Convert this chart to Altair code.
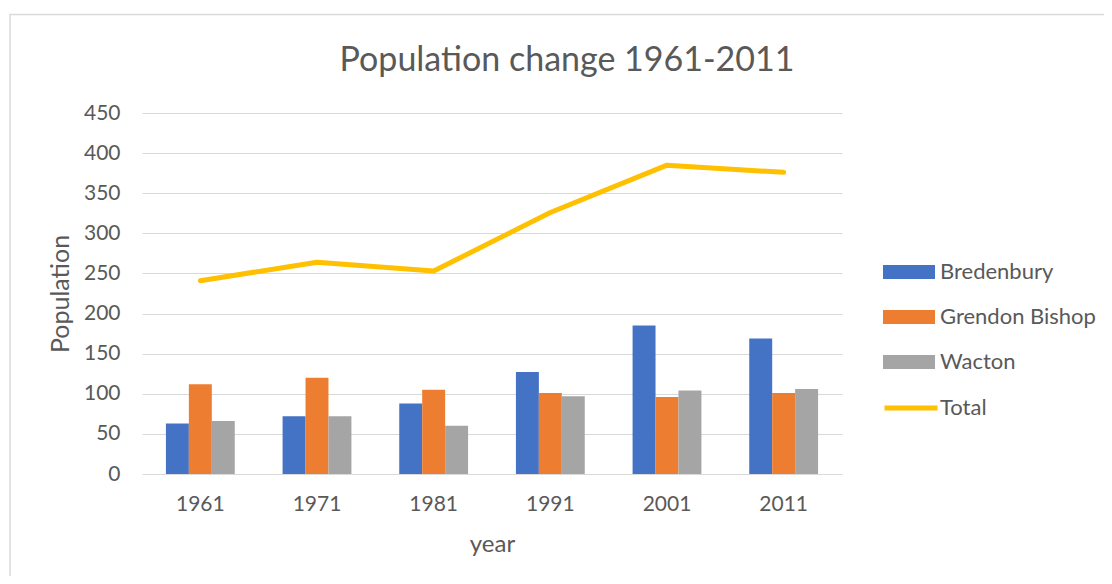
import altair as alt
import pandas as pd

years = ["1961", "1971", "1981", "1991", "2001", "2011"]
bredenbury = [63, 72, 88, 127, 185, 169]
grendon_bishop = [112, 120, 105, 101, 96, 101]
wacton = [66, 72, 60, 97, 104, 106]
total = [241, 264, 253, 326, 385, 376]

series_names = ["Bredenbury", "Grendon Bishop", "Wacton"]
series_colors = ["#4472C4", "#ED7D31", "#A5A5A5"]
total_color = "#FFC000"
chart_title = "Population change 1961-2011"

FONT = "Lato"
TXT = "#595959"
GRID = "#D9D9D9"

rows = []
for name, vals in zip(series_names, [bredenbury, grendon_bishop, wacton]):
    for y, v in zip(years, vals):
        rows.append({"year": y, "series": name, "value": v})
bars_df = pd.DataFrame(rows)
total_df = pd.DataFrame({"year": years, "value": total, "label": ["Total"] * len(years)})
frame_df = pd.DataFrame({"title": [chart_title]})

x_scale = alt.Scale(type="band", domain=years, paddingInner=0.41, paddingOuter=0.205)
y_scale = alt.Scale(domain=[0, 450])

x_axis = alt.Axis(
    title="year", labelFont=FONT, labelFontSize=21, labelColor=TXT, labelAngle=0,
    labelBaseline="alphabetic", labelPadding=36, ticks=False, tickSize=0, domain=False,
    grid=False, titleFont=FONT, titleFontSize=24, titleColor=TXT, titleFontWeight="normal",
    titleX=350, titleY=77, titleBaseline="alphabetic", titleAlign="center",
)
y_axis = alt.Axis(
    title="Population", values=list(range(0, 451, 50)), labelFont=FONT, labelFontSize=21,
    labelColor=TXT, labelPadding=22, ticks=False, tickSize=0, domain=False, grid=True,
    gridColor=GRID, gridWidth=1, titleFont=FONT, titleFontSize=25, titleColor=TXT,
    titleFontWeight="normal", titleAngle=270, titleX=-74, titleY=180.5,
    titleBaseline="alphabetic", titleAlign="center",
)

frame = alt.Chart(frame_df).mark_rect(fillOpacity=0, stroke=GRID, strokeWidth=1.5).encode(
    x=alt.value(-132), x2=alt.value(1100), y=alt.value(-98.5), y2=alt.value(600)
)

title_text = alt.Chart(frame_df).mark_text(
    font=FONT, fontSize=34, color=TXT, align="center", baseline="alphabetic"
).encode(x=alt.value(425), y=alt.value(-42), text="title:N")

bars = alt.Chart(bars_df).mark_bar().encode(
    x=alt.X("year:N", scale=x_scale, axis=x_axis, sort=years),
    xOffset=alt.XOffset("series:N", sort=series_names,
                        scale=alt.Scale(domain=series_names, paddingInner=0, paddingOuter=0)),
    y=alt.Y("value:Q", scale=y_scale, axis=y_axis),
    fill=alt.Fill(
        "series:N",
        scale=alt.Scale(domain=series_names, range=series_colors),
        legend=alt.Legend(
            title=None, orient="none", legendX=741, legendY=133, padding=0,
            symbolType="M-1,-0.27L1,-0.27L1,0.27L-1,0.27Z", symbolSize=2704,
            symbolStrokeWidth=0, labelFont=FONT, labelFontSize=22, labelColor=TXT,
            labelOffset=5, rowPadding=8,
        ),
    ),
)

line = alt.Chart(total_df).mark_line(strokeWidth=5, strokeCap="round", strokeJoin="round").encode(
    x=alt.X("year:N", scale=x_scale, sort=years),
    y=alt.Y("value:Q", scale=y_scale),
    stroke=alt.Stroke(
        "label:N",
        scale=alt.Scale(domain=["Total"], range=[total_color]),
        legend=alt.Legend(
            title=None, orient="none", legendX=740, legendY=266, padding=0,
            symbolType="stroke", symbolSize=2809, symbolStrokeWidth=5,
            labelFont=FONT, labelFontSize=22, labelColor=TXT, labelOffset=0,
        ),
    ),
)

chart = alt.layer(frame, title_text, bars, line).properties(
    width=700,
    height=361,
    autosize=alt.AutoSizeParams(type="none"),
    padding={"left": 134, "top": 105, "right": 262, "bottom": 102},
    background="white",
).configure_view(stroke=None)

chart.save("out.html", embed_options={"renderer": "svg", "actions": False})
